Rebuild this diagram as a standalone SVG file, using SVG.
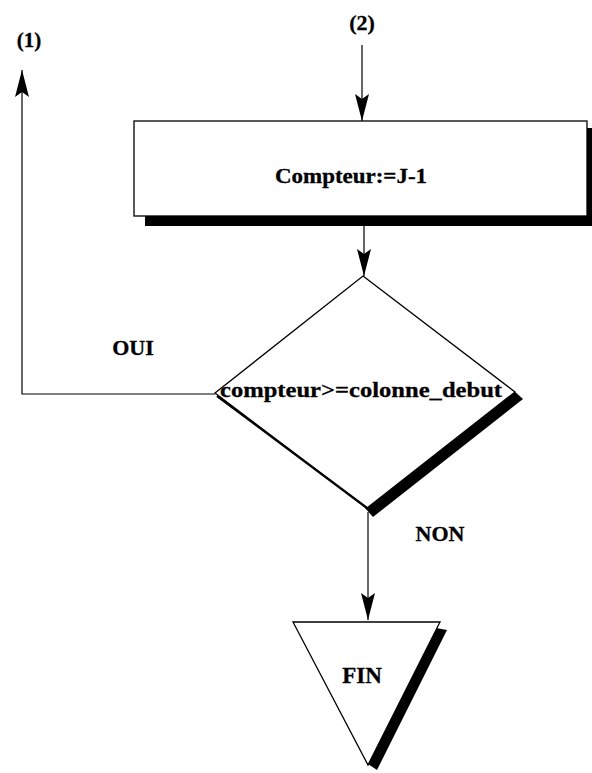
<svg xmlns="http://www.w3.org/2000/svg" width="592" height="773" viewBox="0 0 592 773">
<style>
.t{font-family:"Liberation Serif","Times New Roman",serif;font-weight:bold;fill:#000;stroke:#000;stroke-width:0.3}
.ln{fill:none;stroke:#000;stroke-width:1.2}
.sh{fill:#000;stroke:none}
.nd{fill:#fff;stroke:#000;stroke-width:1.3}
</style>
<defs>
<marker id="ah" markerUnits="userSpaceOnUse" markerWidth="30" markerHeight="16" refX="27" refY="7" orient="auto">
<path d="M0,0 L27,7 L0,14 L5,7 z" fill="#000"/>
</marker>
</defs>
<rect width="592" height="773" fill="#fff"/>
<g id="connectors">
<line class="ln" x1="362" y1="45" x2="362" y2="121" marker-end="url(#ah)"/>
<line class="ln" x1="364" y1="226" x2="364" y2="276" marker-end="url(#ah)"/>
<path class="ln" d="M215,394 H22 V70" marker-end="url(#ah)"/>
<line class="ln" x1="368" y1="512" x2="368" y2="620" marker-end="url(#ah)"/>
</g>
<g id="label-1"><text class="t" x="29" y="47" font-size="21" text-anchor="middle">(1)</text></g>
<g id="label-2"><text class="t" x="362" y="30" font-size="22" text-anchor="middle">(2)</text></g>
<g id="process">
<rect class="sh" x="145" y="214" width="447" height="12"/>
<rect class="sh" x="587" y="128" width="5" height="98"/>
<rect class="nd" x="134" y="121" width="453" height="95"/>
<text class="t" x="351" y="183" font-size="20" text-anchor="middle" textLength="152" lengthAdjust="spacingAndGlyphs">Compteur:=J-1</text>
</g>
<g id="decision">
<polygon class="sh" points="513,390 523,399 373,517 365,508"/>
<polygon class="nd" points="363,276 515,392 367,508 215,393"/>
<line x1="217" y1="396" x2="367" y2="508" stroke="#000" stroke-width="2.2"/>
<text class="t" x="220" y="397" font-size="22" textLength="282" lengthAdjust="spacingAndGlyphs">compteur&gt;=colonne_debut</text>
</g>
<g id="label-oui"><text class="t" x="133" y="355" font-size="22" text-anchor="middle">OUI</text></g>
<g id="label-non"><text class="t" x="440" y="541" font-size="22" text-anchor="middle">NON</text></g>
<g id="end">
<polygon class="sh" points="436,628 447,630 377,770 368,764"/>
<polygon class="nd" points="293,622 440,622 368,765"/>
<text class="t" x="362" y="683" font-size="23" text-anchor="middle">FIN</text>
</g>
</svg>
